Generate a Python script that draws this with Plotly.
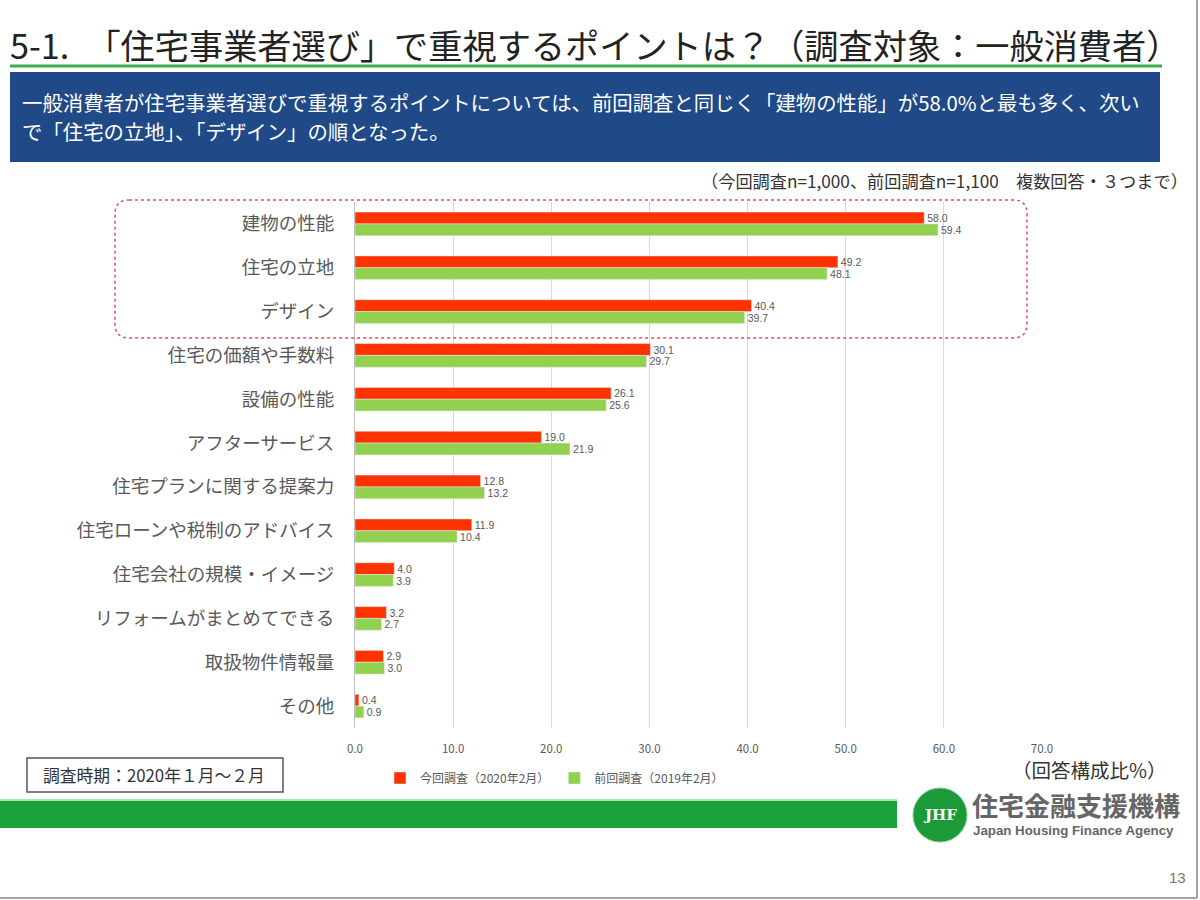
import plotly.graph_objects as go

categories = ["建物の性能", "住宅の立地", "デザイン", "住宅の価額や手数料", "設備の性能",
              "アフターサービス", "住宅プランに関する提案力", "住宅ローンや税制のアドバイス",
              "住宅会社の規模・イメージ", "リフォームがまとめてできる", "取扱物件情報量", "その他"]
current = [58.0, 49.2, 40.4, 30.1, 26.1, 19.0, 12.8, 11.9, 4.0, 3.2, 2.9, 0.4]
previous = [59.4, 48.1, 39.7, 29.7, 25.6, 21.9, 13.2, 10.4, 3.9, 2.7, 3.0, 0.9]
series_names = ["今回調査（2020年2月）", "前回調査（2019年2月）"]
x_ticks = [0, 10, 20, 30, 40, 50, 60, 70]

FONT = "Noto Sans CJK JP"
W, H = 1200, 900
L, R, T, B = 355, 1042, 202, 728
PW, PH = R - L, B - T


def px(x):
    return (x - L) / PW


def py(y):
    return (B - y) / PH


fig = go.Figure()
fig.add_trace(go.Bar(
    y=categories, x=current, name=series_names[0], orientation="h",
    marker=dict(color="#FF3300"),
    texttemplate="%{x:.1f}", textposition="outside", constraintext="none",
    textfont=dict(size=10.5, color="#595959", family="Liberation Sans"), cliponaxis=False))
fig.add_trace(go.Bar(
    y=categories, x=previous, name=series_names[1], orientation="h",
    marker=dict(color="#92D050"),
    texttemplate="%{x:.1f}", textposition="outside", constraintext="none",
    textfont=dict(size=10.5, color="#595959", family="Liberation Sans"), cliponaxis=False))

shapes = []
# title underline
shapes.append(dict(type="line", xref="paper", yref="paper",
                   x0=px(10), x1=px(1162), y0=py(66), y1=py(66),
                   line=dict(color="#3DAE4F", width=3)))
# blue box
shapes.append(dict(type="rect", xref="paper", yref="paper",
                   x0=px(10), x1=px(1160), y0=py(72), y1=py(162),
                   fillcolor="#1F4A87", line=dict(width=0), layer="below"))
# rounded dashed highlight box
x0, x1, y0, y1 = px(115), px(1027), py(200), py(338)
rx, ry = 14 / PW, 14 / PH
path = (f"M {x0+rx},{y0} L {x1-rx},{y0} Q {x1},{y0} {x1},{y0-ry} "
        f"L {x1},{y1+ry} Q {x1},{y1} {x1-rx},{y1} "
        f"L {x0+rx},{y1} Q {x0},{y1} {x0},{y1+ry} "
        f"L {x0},{y0-ry} Q {x0},{y0} {x0+rx},{y0} Z")
shapes.append(dict(type="path", xref="paper", yref="paper", path=path,
                   line=dict(color="#E0505A", width=1.5, dash="dot")))
# survey period box
shapes.append(dict(type="rect", xref="paper", yref="paper",
                   x0=px(27), x1=px(283), y0=py(758), y1=py(792),
                   line=dict(color="#555555", width=1.5), fillcolor="white"))
# bottom green band
shapes.append(dict(type="rect", xref="paper", yref="paper",
                   x0=px(0), x1=px(897), y0=py(800), y1=py(828),
                   fillcolor="#1BA23A", line=dict(width=0)))
shapes.append(dict(type="line", xref="paper", yref="paper",
                   x0=px(0), x1=px(897), y0=py(800), y1=py(800),
                   line=dict(color="#A8E6B0", width=2)))
# logo circle
shapes.append(dict(type="circle", xref="paper", yref="paper",
                   x0=px(913), x1=px(967), y0=py(788), y1=py(842),
                   fillcolor="#1C9A3A", line=dict(color="#7CCB8A", width=1)))
# frame (right and bottom edges)
shapes.append(dict(type="line", xref="paper", yref="paper",
                   x0=px(1197), x1=px(1197), y0=py(0), y1=py(898),
                   line=dict(color="#8A8A8A", width=1.5)))
shapes.append(dict(type="line", xref="paper", yref="paper",
                   x0=px(0), x1=px(1197), y0=py(898), y1=py(898),
                   line=dict(color="#8A8A8A", width=1.5)))

ann = []
ann.append(dict(text="5-1.　「住宅事業者選び」で重視するポイントは？（調査対象：一般消費者）",
                x=px(8), y=py(44), xanchor="left", yanchor="middle",
                font=dict(size=34.2, color="#222222", family=FONT)))
ann.append(dict(text="一般消費者が住宅事業者選びで重視するポイントについては、前回調査と同じく「建物の性能」が58.0%と最も多く、次い",
                x=px(20), y=py(102), xanchor="left", yanchor="middle",
                font=dict(size=20.4, color="white", family=FONT)))
ann.append(dict(text="で「住宅の立地」、「デザイン」の順となった。",
                x=px(20), y=py(131), xanchor="left", yanchor="middle",
                font=dict(size=20.4, color="white", family=FONT)))
ann.append(dict(text="（今回調査n=1,000、前回調査n=1,100　複数回答・３つまで）",
                x=px(1190), y=py(180), xanchor="right", yanchor="middle",
                font=dict(size=17.2, color="#333333", family=FONT)))
ann.append(dict(text="（回答構成比%）",
                x=px(1168), y=py(769), xanchor="right", yanchor="middle",
                font=dict(size=19.5, color="#333333", family=FONT)))
ann.append(dict(text="調査時期：2020年１月～２月",
                x=px(154), y=py(775), xanchor="center", yanchor="middle",
                font=dict(size=16.8, color="#333333", family=FONT)))
ann.append(dict(text="<b>JHF</b>",
                x=px(940), y=py(815), xanchor="center", yanchor="middle",
                font=dict(size=15, color="white", family="DejaVu Serif")))
ann.append(dict(text="<b>住宅金融支援機構</b>",
                x=px(970), y=py(804), xanchor="left", yanchor="middle",
                font=dict(size=26, color="#666666", family=FONT)))
ann.append(dict(text="<b>Japan Housing Finance Agency</b>",
                x=px(971), y=py(830), xanchor="left", yanchor="middle",
                font=dict(size=13.3, color="#666666", family="Liberation Sans")))
ann.append(dict(text="13",
                x=px(1188), y=py(877), xanchor="right", yanchor="middle",
                font=dict(size=15, color="#777777", family="Liberation Sans")))
for a in ann:
    a.update(xref="paper", yref="paper", showarrow=False)

fig.update_layout(
    width=W, height=H,
    margin=dict(l=L, r=W - R, t=T, b=H - B, pad=0),
    paper_bgcolor="white", plot_bgcolor="white",
    barmode="group", bargap=0.46, bargroupgap=0,
    font=dict(family=FONT, color="#595959"),
    xaxis=dict(range=[0, 70], tickvals=x_ticks, ticktext=[f"{v:.1f}" for v in x_ticks],
               showgrid=True, gridcolor="#D9D9D9", gridwidth=1, zeroline=False,
               showline=False, ticks="", ticklabelstandoff=12,
               tickfont=dict(size=11.5, color="#595959"),
               fixedrange=True),
    yaxis=dict(autorange="reversed", showgrid=False, showline=True, linecolor="#BFBFBF",
               linewidth=1, ticks="", ticklabelstandoff=16,
               tickfont=dict(size=18.5, color="#595959", family=FONT)),
    legend=dict(orientation="h", x=px(380), y=py(778), xanchor="left", yanchor="middle",
                font=dict(size=12, color="#595959", family=FONT), itemwidth=30,
                traceorder="normal", bgcolor="rgba(0,0,0,0)"),
    shapes=shapes, annotations=ann, showlegend=True,
)

fig.write_html("out.html")
